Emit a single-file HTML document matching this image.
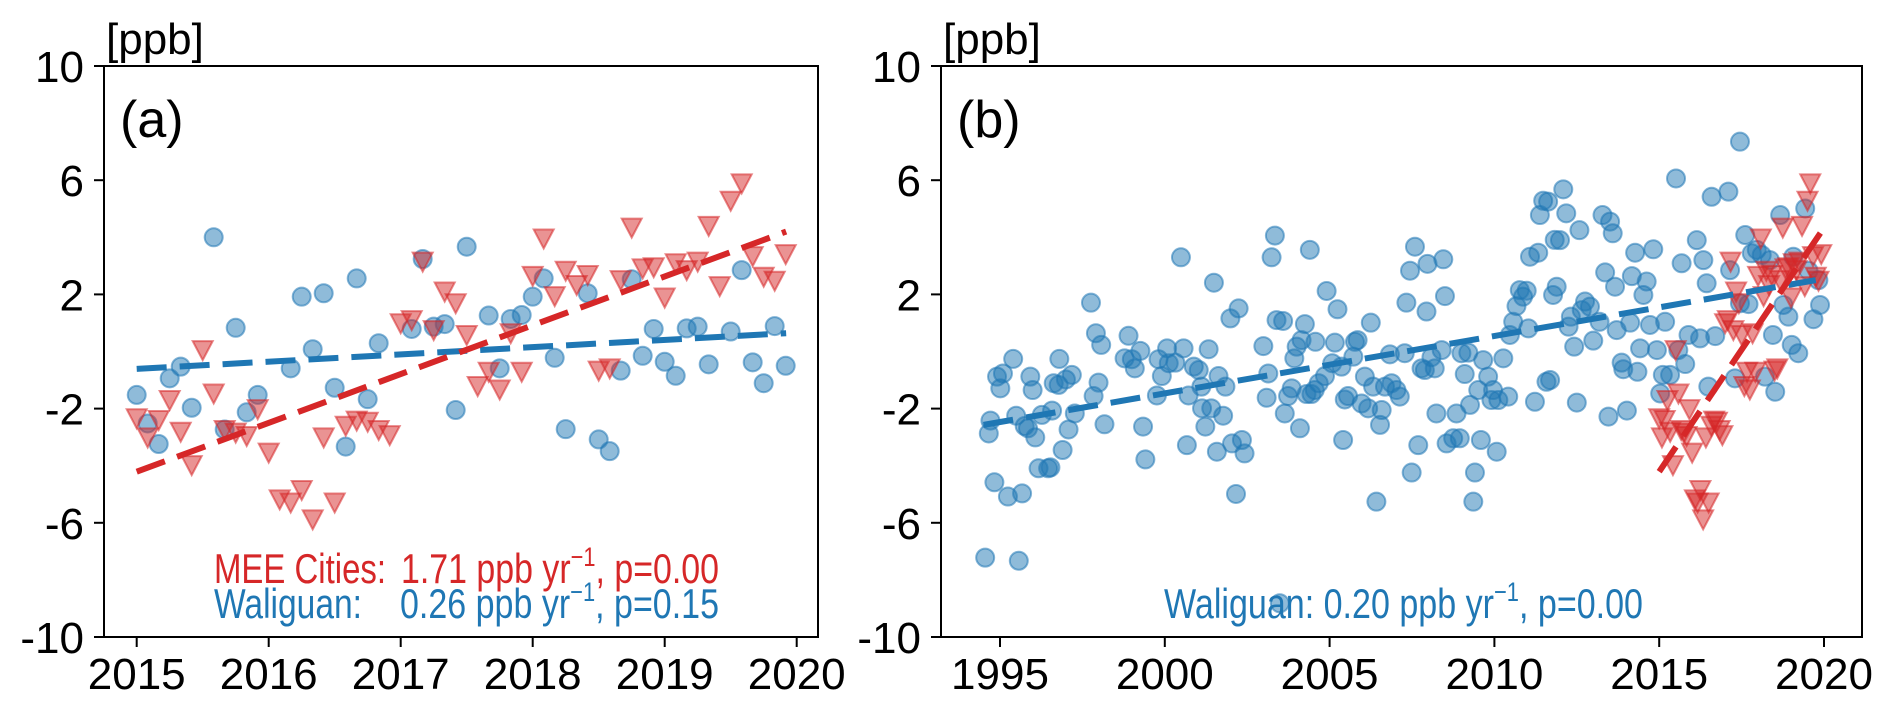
<!DOCTYPE html>
<html><head><meta charset="utf-8"><style>
html,body{margin:0;padding:0;background:#fff;}
svg{display:block;font-family:"Liberation Sans",Arial,sans-serif;}
</style></head><body>
<svg id="fig" width="1892" height="709" viewBox="0 0 1892 709">
<defs>
<clipPath id="clipA"><rect x="104" y="66" width="714" height="571"/></clipPath>
<clipPath id="clipB"><rect x="941" y="66" width="921" height="571"/></clipPath>
</defs>
<g id="panelA"></g>
<g id="panelB"></g>
</svg>
<script>
// ---------- data ----------
const meeValues = [-2.34,-3.01,-2.40,-1.70,-2.81,-3.98,0.05,-1.47,-2.75,-2.84,-2.96,-2.02,-3.54,-5.18,-5.29,-4.85,-5.88,-3.01,-5.29,-2.60,-2.42,-2.46,-2.75,-2.93,0.99,1.10,3.15,0.75,2.10,1.69,0.58,-1.21,-0.71,-1.33,0.64,-0.71,2.65,3.96,1.94,2.83,2.33,2.68,-0.67,-0.59,2.50,4.34,2.91,2.95,1.89,3.09,2.85,3.15,4.40,2.29,5.28,5.89,3.34,2.62,2.48,3.41];
const waliguanA = [-1.52,-2.52,-3.24,-0.94,-0.53,-1.97,null,4.00,-2.73,0.83,-2.13,-1.52,null,null,-0.59,1.92,0.08,2.04,-1.27,-3.33,2.56,-1.67,0.29,null,null,0.79,3.24,0.87,0.96,-2.05,3.67,null,1.26,-0.59,1.14,1.28,1.92,2.56,-0.22,-2.72,null,2.04,-3.08,-3.49,-0.67,2.53,-0.15,0.79,-0.36,-0.85,0.81,0.87,-0.45,null,0.70,2.85,-0.38,-1.11,0.89,-0.50];
const startYearA = 2015;
const waliguanBYears = [1994.55,1995.57,1994.83,1995.24,1995.67,1994.66,1994.71,1994.91,1995.09,1995.01,1995.40,1995.49,1995.75,1995.85,1996.07,1995.92,1995.99,1996.17,1996.46,1996.53,1996.27,1996.58,1996.90,1997.08,1997.27,1996.63,1996.78,1996.80,1997.00,1997.18,1997.76,1997.91,1998.07,1997.99,1997.84,1998.17,1998.78,1998.90,1999.00,1999.09,1999.26,1999.34,1999.41,1999.76,1999.81,1999.91,2000.07,2000.12,2000.32,2000.57,2000.49,2000.67,2000.72,2000.88,2001.03,2001.11,2001.13,2001.33,2001.41,2001.23,2001.49,2001.63,2001.77,2001.84,2001.99,2002.24,2001.58,2002.04,2002.34,2002.42,2002.16,
2002.99,2003.09,2003.14,2003.24,2003.34,2003.39,2003.59,2003.64,2003.74,2003.85,2003.93,2004.00,2004.10,2004.15,2004.25,2004.30,2004.40,2004.45,2004.55,2004.57,2004.67,2004.86,2004.91,2005.08,2005.16,2005.24,2005.36,2005.41,2005.46,2005.56,2005.72,2005.77,2005.85,2005.97,2006.07,2006.17,2006.25,2006.32,2006.42,2006.53,2006.58,2006.68,2006.83,2006.88,2007.03,2007.13,2007.28,2007.33,2007.44,2007.49,2007.59,2007.69,2007.79,2007.89,2007.94,2007.97,2008.09,2008.19,2008.24,2008.40,2008.45,2008.50,2008.55,2008.75,2008.85,2008.95,2009.00,2009.10,2009.21,2009.26,2009.36,2009.41,2009.51,2009.59,2009.66,2009.81,2009.91,2009.96,2010.07,2010.12,2010.27,2010.42,2010.47,2010.57,2010.67,2010.77,2010.87,2010.98,2011.03,2011.08,2011.23,2011.33,2011.38,2011.48,2011.58,2011.63,2011.78,2011.83,2003.49,
2011.69,2011.89,2011.99,2012.09,2012.18,2012.25,2012.32,2012.42,2012.50,2012.58,2012.65,2012.75,2012.90,2013.00,2013.19,2013.28,2013.36,2013.46,2013.51,2013.59,2013.66,2013.71,2013.86,2013.91,2014.02,2014.12,2014.17,2014.27,2014.34,2014.42,2014.52,2014.62,2014.72,2014.82,2014.93,2015.03,2015.11,2015.18,2015.33,2015.51,2015.58,2015.68,2015.79,2015.89,2016.14,2016.24,2016.34,2016.44,2016.49,2016.59,2016.70,2017.10,2017.15,2017.30,2017.45,2017.45,2017.61,2017.71,2017.81,2017.96,2018.11,2018.21,2018.36,2018.45,2018.52,2018.67,2018.77,2018.92,2019.02,2019.07,2019.22,2019.43,2019.53,2019.68,2019.88,2019.83];
const waliguanBValues = [-7.22,-7.33,-4.58,-5.08,-4.97,-2.87,-2.42,-0.88,-0.77,-1.29,-0.26,-2.25,-2.61,-2.69,-3.01,-0.88,-1.35,-4.09,-4.09,-4.06,-2.22,-2.07,-3.45,-2.73,-2.17,-1.11,-1.17,-0.26,-0.98,-0.82,1.71,0.64,0.23,-1.09,-1.56,-2.55,-0.24,0.55,-0.27,-0.59,0.02,-2.63,-3.78,-1.54,-0.27,-0.86,0.11,-0.41,-0.39,0.11,3.30,-3.28,-1.54,-0.53,-0.65,-1.23,-1.99,0.08,-1.99,-2.63,2.41,-0.86,-2.25,-1.23,1.16,1.51,-3.51,-3.22,-3.10,-3.57,-4.99,
0.19,-1.62,-0.77,3.30,4.06,1.10,1.07,-2.17,-1.56,-1.29,-0.24,0.17,-2.69,0.40,0.96,-1.49,3.56,-1.49,-1.35,0.34,-1.11,-0.86,2.12,-0.41,0.31,1.48,-0.53,-3.10,-1.68,-1.56,-0.18,0.34,0.40,-1.82,-0.88,-1.99,1.01,-1.23,-5.26,-2.57,-2.05,-1.23,-0.10,-1.11,-1.35,-1.58,-0.06,1.71,2.83,-4.24,3.67,-3.28,-0.59,-0.65,1.40,3.07,-0.20,-0.59,-2.17,0.05,3.23,1.94,-3.22,-3.04,-2.17,-3.04,-0.06,-0.79,-0.04,-1.87,-5.26,-4.24,-1.35,-3.10,-0.30,-0.88,-1.70,-1.35,-3.51,-1.70,-0.24,-1.58,0.58,1.04,1.59,2.15,1.92,2.13,0.81,3.32,-1.76,3.46,4.78,5.28,-1.06,5.25,1.98,3.91,-8.82,
-1.00,2.27,3.90,5.68,4.84,0.87,1.22,0.17,-1.79,4.25,1.45,1.75,1.57,0.38,1.04,4.78,2.77,-2.28,4.55,4.14,2.27,0.75,-0.39,-0.62,-2.07,1.01,2.64,3.46,-0.71,0.11,1.98,2.45,0.93,3.58,0.05,-1.47,-0.82,1.04,-0.82,6.06,0.05,3.09,-0.44,0.58,3.90,0.46,3.20,2.39,-1.23,5.42,0.54,5.60,2.85,-0.94,1.69,7.35,4.08,1.66,3.44,3.56,3.38,-0.88,3.20,0.58,-1.41,4.78,1.63,1.22,0.23,3.32,-0.06,5.01,2.83,1.13,1.63,2.50];
const meeTrendYears = [2015.0, 2019.92];
const meeTrendValues = [-4.21, 4.20];
const waliguanATrendYears = [2015.0, 2019.92];
const waliguanATrendValues = [-0.61, 0.64];
const waliguanBTrendYears = [1994.5, 2019.75];
const waliguanBTrendValues = [-2.57, 2.50];
const yTicks = [10, 6, 2, -2, -6, -10];
const xTicksA = [2015, 2016, 2017, 2018, 2019, 2020];
const xTicksB = [1995, 2000, 2005, 2010, 2015, 2020];

// ---------- helpers ----------
const NS = "http://www.w3.org/2000/svg";
function mk(tag, attrs, parent){ const e=document.createElementNS(NS,tag); for(const k in attrs) e.setAttribute(k,attrs[k]); parent.appendChild(e); return e; }
function yScale(v){ return 351.5 - v*28.55; }
const xA = yr => 136.7 + (yr-2015)*132;
const xB = yr => 1000 + (yr-1995)*32.96;
const BLUE="#1f77b4", RED="#d62728";

function axes(g, left, right, xs, xticks, name){
  const frame = mk("rect",{x:left,y:66,width:right-left,height:571,fill:"none",stroke:"#000","stroke-width":2},g);
  
  
  yTicks.forEach(v=>{
    const y=yScale(v);
    mk("line",{x1:left-10,x2:left,y1:y,y2:y,stroke:"#000","stroke-width":2},g);
    const t=mk("text",{x:left-20,y:y+16,"text-anchor":"end","font-size":44},g);
    t.textContent = String(v);
    
    
  });
  xticks.forEach(yr=>{
    const x=xs(yr);
    mk("line",{x1:x,x2:x,y1:637,y2:647,stroke:"#000","stroke-width":2},g);
    const t=mk("text",{x:x,y:689,"text-anchor":"middle","font-size":44},g);
    t.textContent = String(yr);
    
    
  });
}
function circle(g,x,y){
  const c=mk("circle",{cx:x,cy:y,r:9,fill:BLUE,"fill-opacity":0.5,stroke:BLUE,"stroke-opacity":0.55,"stroke-width":2},g);
  
  
}
function tri(g,x,y){
  const p=mk("polygon",{points:`${x-10},${y-9} ${x+10},${y-9} ${x},${y+10}`,fill:RED,"fill-opacity":0.5,stroke:RED,"stroke-opacity":0.55,"stroke-width":2},g);
  
  
}
function trend(g,xs,yrs,vals,color,name){
  const l=mk("line",{x1:xs(yrs[0]),y1:yScale(vals[0]),x2:xs(yrs[1]),y2:yScale(vals[1]),stroke:color,"stroke-width":6,"stroke-dasharray":"30 13"},g);
  
  
}
function label(g,x,y,size,txt,name,color,len){
  const t=mk("text",{x:x,y:y,"font-size":size,fill:color||"#000"},g);
  if(len){ t.setAttribute("textLength",len); t.setAttribute("lengthAdjust","spacingAndGlyphs"); }
  t.textContent=txt;
  
  
  return t;
}
function statText(g,x,y,prefix,rest,color,name,len){
  const t=mk("text",{x:x,y:y,"font-size":42,fill:color,textLength:len,lengthAdjust:"spacingAndGlyphs"},g);
  
  
  const a=mk("tspan",{},t); a.textContent=prefix;
  const s=mk("tspan",{"font-size":27,dy:-17},t); s.textContent="\u22121";
  const b=mk("tspan",{dy:17},t); b.textContent=rest;
  return t;
}

// ---------- panel A ----------
const gA=document.getElementById("panelA");
axes(gA,104,818,xA,xTicksA,"panel-a");
const mA=mk("g",{"clip-path":"url(#clipA)"},gA);
waliguanA.forEach((v,i)=>{ if(v!==null) circle(mA,xA(startYearA+i/12),yScale(v)); });
meeValues.forEach((v,i)=>{ tri(mA,xA(startYearA+i/12),yScale(v)); });
trend(mA,xA,waliguanATrendYears,waliguanATrendValues,BLUE,"waliguan-trend-line-a");
trend(mA,xA,meeTrendYears,meeTrendValues,RED,"mee-trend-line-a");
label(gA,106,54,44,"[ppb]","y-axis-unit-a");
label(gA,120,137,52,"(a)","panel-label-a");
label(gA,214,583,42,"MEE Cities:","legend-mee-name",RED,172);
statText(gA,401,583,"1.71 ppb yr",", p=0.00",RED,"legend-mee-stat",318);
label(gA,214,618,42,"Waliguan:","legend-waliguan-name",BLUE,148);
statText(gA,400,618,"0.26 ppb yr",", p=0.15",BLUE,"legend-waliguan-stat",319);

// ---------- panel B ----------
const gB=document.getElementById("panelB");
axes(gB,941,1862,xB,xTicksB,"panel-b");
const mB=mk("g",{"clip-path":"url(#clipB)"},gB);
waliguanBYears.forEach((yr,i)=>{ circle(mB,xB(yr),yScale(waliguanBValues[i])); });
meeValues.forEach((v,i)=>{ tri(mB,xB(startYearA+i/12),yScale(v)); });
trend(mB,xB,waliguanBTrendYears,waliguanBTrendValues,BLUE,"waliguan-trend-line-b");
trend(mB,xB,meeTrendYears,meeTrendValues,RED,"mee-trend-line-b");
label(gB,943,54,44,"[ppb]","y-axis-unit-b");
label(gB,957,137,52,"(b)","panel-label-b");
statText(gB,1164,618,"Waliguan: 0.20 ppb yr",", p=0.00",BLUE,"waliguan-stat-b",479);
</script>
</body></html>
